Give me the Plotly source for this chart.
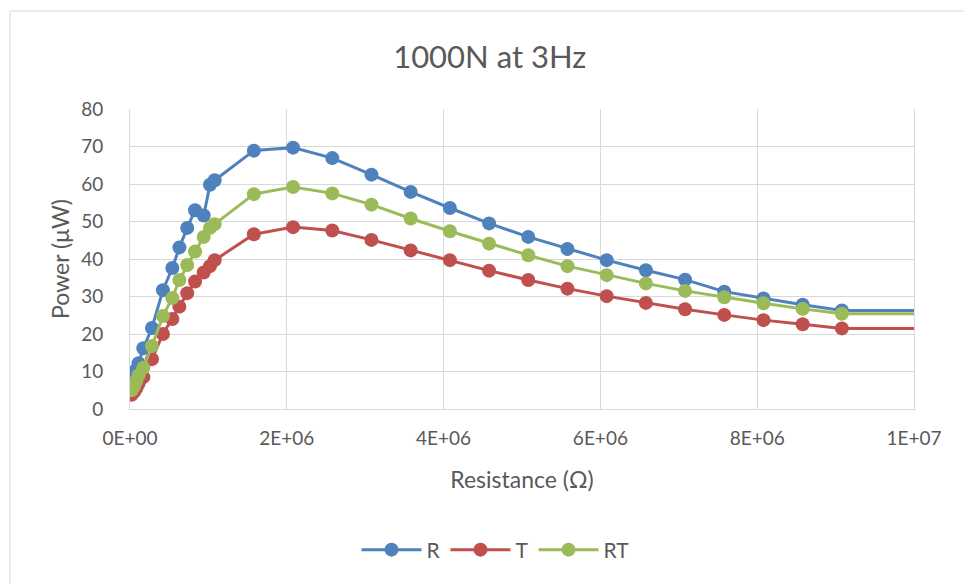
import plotly.graph_objects as go

# Resistance values (Ohm)
resistance = [0.02e6, 0.05e6, 0.08e6, 0.11e6, 0.17e6, 0.28e6, 0.42e6, 0.54e6, 0.63e6, 0.73e6,
              0.83e6, 0.94e6, 1.02e6, 1.08e6, 1.58e6, 2.08e6, 2.58e6, 3.08e6, 3.58e6, 4.08e6,
              4.58e6, 5.08e6, 5.58e6, 6.08e6, 6.58e6, 7.08e6, 7.58e6, 8.08e6, 8.58e6, 9.08e6,
              12.0e6]

power_R = [6.5, 8.5, 10.5, 12.2, 16.2, 21.6, 31.7, 37.6, 43.1, 48.3,
           53.0, 51.6, 59.8, 61.0, 68.9, 69.7, 66.9, 62.5, 57.9, 53.6,
           49.5, 45.9, 42.7, 39.7, 37.0, 34.5, 31.3, 29.5, 27.8, 26.3,
           26.2]
power_T = [3.8, 4.5, 5.5, 6.8, 8.5, 13.3, 20.0, 24.0, 27.3, 30.9,
           34.0, 36.4, 38.1, 39.7, 46.6, 48.5, 47.6, 45.1, 42.3, 39.7,
           36.9, 34.4, 32.1, 30.1, 28.3, 26.6, 25.1, 23.7, 22.6, 21.5,
           21.4]
power_RT = [5.0, 6.0, 7.5, 9.0, 11.0, 16.8, 24.8, 29.6, 34.4, 38.4,
            42.0, 45.9, 48.3, 49.3, 57.3, 59.2, 57.5, 54.5, 50.8, 47.4,
            44.1, 41.0, 38.1, 35.7, 33.5, 31.5, 29.8, 28.2, 26.7, 25.4,
            25.4]

series_names = ["R", "T", "RT"]
series_colors = ["#4f81bd", "#c0504d", "#9bbb59"]
series_values = [power_R, power_T, power_RT]

x_tickvals = [0, 2e6, 4e6, 6e6, 8e6, 1e7]
x_ticktext = ["0E+00", "2E+06", "4E+06", "6E+06", "8E+06", "1E+07"]

FONT = "Lato, 'Open Sans', sans-serif"
GREY = "#595959"
GRID = "#d9d9d9"

fig = go.Figure()
for name, color, vals in zip(series_names, series_colors, series_values):
    fig.add_trace(go.Scatter(
        x=resistance, y=vals, name=name, mode="lines+markers",
        line=dict(color=color, width=3),
        marker=dict(color=color, size=14),
    ))

# plot area: x 130..914, y 109..409
fig.update_layout(
    width=964, height=584,
    margin=dict(l=130, r=50, t=109, b=175),
    paper_bgcolor="white", plot_bgcolor="white",
    font=dict(family=FONT, color=GREY, size=19),
    title=dict(text="1000N at 3Hz", font=dict(size=31, color=GREY, family=FONT),
               xref="container", x=0.508, xanchor="center",
               yref="container", y=1 - 57 / 584, yanchor="middle"),
    showlegend=True,
    legend=dict(orientation="h", xref="container", x=0.514, xanchor="center",
                yref="container", y=1 - 550 / 584, yanchor="middle",
                font=dict(size=21, color=GREY), itemwidth=60),
    xaxis=dict(range=[0, 1e7], tickvals=x_tickvals, ticktext=x_ticktext,
               showgrid=True, gridcolor=GRID, gridwidth=1,
               showline=True, linecolor=GRID, linewidth=1, zeroline=False,
               ticks="", tickfont=dict(size=19, color=GREY), ticklabelstandoff=12,
               title=dict(text="Resistance (Ω)", font=dict(size=23, color=GREY), standoff=24)),
    yaxis=dict(range=[0, 80], dtick=10, showgrid=True, gridcolor=GRID, gridwidth=1,
               showline=True, linecolor=GRID, linewidth=1, mirror=True, zeroline=False,
               ticks="", tickfont=dict(size=19, color=GREY), ticklabelstandoff=22,
               title=dict(text="Power (μW)", font=dict(size=23, color=GREY), standoff=5)),
    shapes=[dict(type="rect", xref="paper", yref="paper",
                 x0=(10 - 130) / 784, x1=(980 - 130) / 784,
                 y0=(409 - 600) / 300, y1=(409 - 11) / 300,
                 line=dict(color=GRID, width=1), fillcolor="rgba(0,0,0,0)", layer="below")],
)

fig.write_html("out.html")
